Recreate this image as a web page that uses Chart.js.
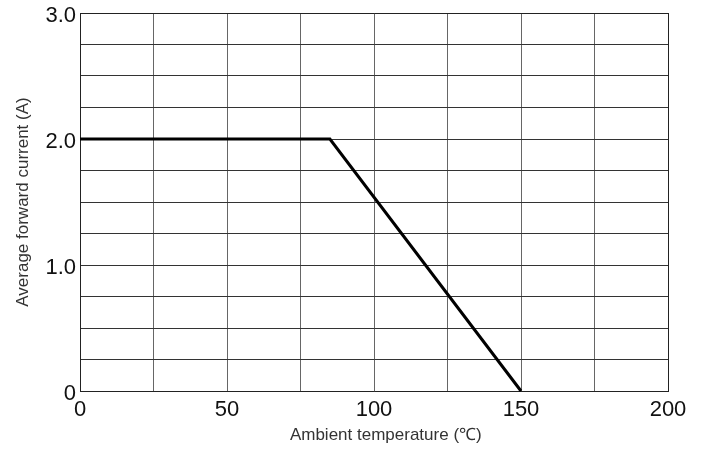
<!DOCTYPE html>
<html>
<head>
<meta charset="utf-8">
<script src="https://cdn.jsdelivr.net/npm/chart.js@4.4.1/dist/chart.umd.min.js"></script>
<style>
  body { margin: 0; background: #fff; }
</style>
</head>
<body>
<canvas id="deratingChart" width="706" height="451"></canvas>
<script>
// Derating curve data
const tempPoints = [0, 85, 150];
const currentPoints = [2.0, 2.0, 0];
const xLabelValues = [0, 50, 100, 150, 200];
const yLabelValues = [0, 1, 2, 3];

const font = "'Liberation Sans', Arial, sans-serif";

const ctx = document.getElementById('deratingChart').getContext('2d');
const deratingChart = new Chart(ctx, {
    type: 'line',
    data: {
        datasets: [{
            label: 'Average forward current',
            data: tempPoints.map((t, i) => ({ x: t, y: currentPoints[i] })),
            borderColor: '#000',
            borderWidth: 3,
            pointRadius: 0,
            tension: 0,
            clip: false
        }]
    },
    options: {
        responsive: false,
        animation: false,
        layout: {
            padding: { top: 13, right: 38, bottom: 0, left: 0 }
        },
        plugins: {
            legend: { display: false },
            tooltip: { enabled: false }
        },
        scales: {
            x: {
                type: 'linear',
                min: 0,
                max: 200,
                afterFit: scale => {
                    scale.height = 60;
                    scale.paddingLeft = 0;
                    scale.paddingRight = 0;
                },
                ticks: {
                    stepSize: 25,
                    autoSkip: false,
                    maxRotation: 0,
                    padding: 6,
                    color: '#111',
                    font: { family: font, size: 22 },
                    callback: v => xLabelValues.includes(v) ? String(v) : ''
                },
                grid: {
                    drawTicks: false,
                    color: c => c.tick && c.tick.value === 200 ? '#222' : '#666',
                    lineWidth: 1
                },
                border: { color: '#222', width: 1 },
                title: {
                    display: true,
                    text: '     Ambient temperature (\u2103)',
                    color: '#333',
                    font: { family: font, size: 17 },
                    padding: { top: 0, bottom: 5 }
                }
            },
            y: {
                min: 0,
                max: 3,
                afterFit: scale => {
                    scale.width = 80;
                    scale.paddingTop = 0;
                    scale.paddingBottom = 0;
                },
                ticks: {
                    stepSize: 0.25,
                    autoSkip: false,
                    padding: 4,
                    labelOffset: 3,
                    color: '#111',
                    font: { family: font, size: 22 },
                    callback: v => yLabelValues.includes(v) ? (v === 0 ? '0' : v.toFixed(1)) : ''
                },
                grid: {
                    drawTicks: false,
                    color: c => c.tick && c.tick.value === 3 ? '#222' : '#333',
                    lineWidth: 1
                },
                border: { color: '#222', width: 1 },
                title: {
                    display: true,
                    text: 'Average forward current (A)',
                    color: '#333',
                    font: { family: font, size: 17 },
                    padding: { top: 13, bottom: 0 }
                }
            }
        }
    }
});
</script>
</body>
</html>
